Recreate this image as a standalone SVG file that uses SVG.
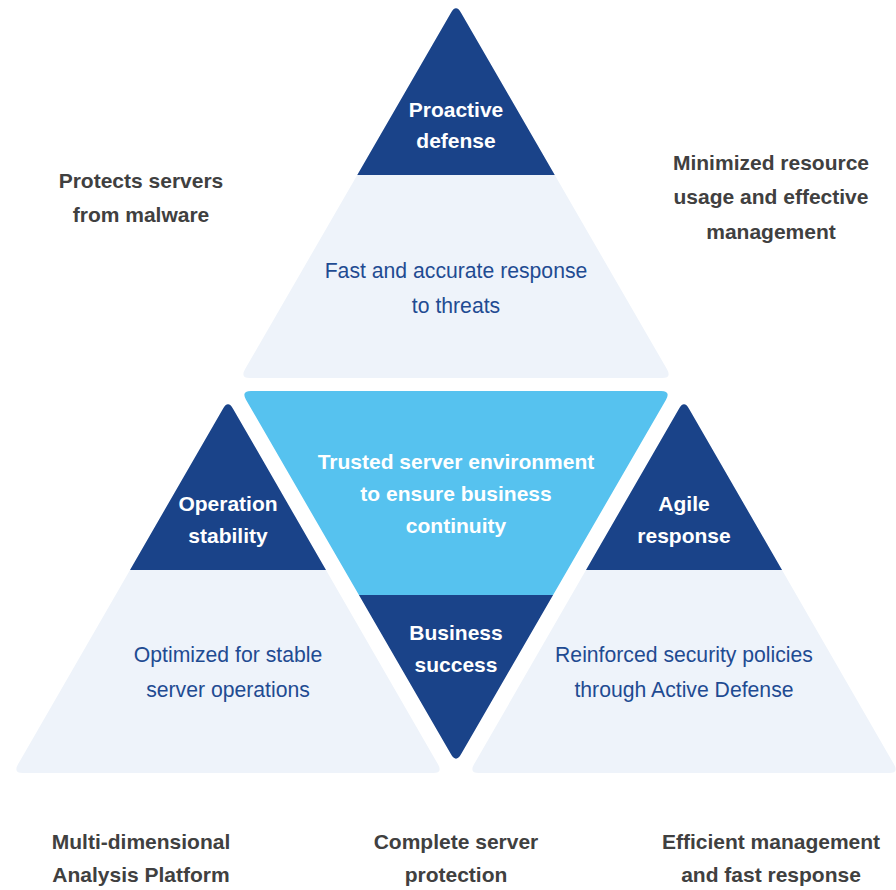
<svg xmlns="http://www.w3.org/2000/svg" width="896" height="890" viewBox="0 0 896 890">
<defs>
<style>
.dark{fill:#1a4389}
.light{fill:#eef3fa}
.cyan{fill:#56c2ef}
text{font-family:"Liberation Sans",Arial,sans-serif;text-anchor:middle}
.wb{fill:#ffffff;font-weight:bold;font-size:21px}
.bt{fill:#1f4b92;font-size:21.2px}
.gb{fill:#404040;font-weight:bold;font-size:21px}
</style>
<clipPath id="cTop"><path d="M461,12.66 L667,369.34 Q672,378 662,378 L250,378 Q240,378 245,369.34 L451,12.66 Q456,4 461,12.66 Z"/></clipPath>
<clipPath id="cCenter"><path d="M251,391 L661,391 Q671,391 666,399.66 L461,754.34 Q456,763 451,754.34 L246,399.66 Q241,391 251,391 Z"/></clipPath>
<clipPath id="cLeft"><path d="M233,408.66 L438,764.34 Q443,773 433,773 L23,773 Q13,773 18,764.34 L223,408.66 Q228,400 233,408.66 Z"/></clipPath>
<clipPath id="cRight"><path d="M689,408.66 L894,764.34 Q899,773 889,773 L479,773 Q469,773 474,764.34 L679,408.66 Q684,400 689,408.66 Z"/></clipPath>
</defs>
<rect width="896" height="890" fill="#ffffff"/>

<g id="top-triangle">
<g clip-path="url(#cTop)">
<rect class="light" x="230" y="0" width="450" height="380"/>
<rect class="dark" x="230" y="0" width="450" height="175"/>
</g>
<text class="wb" x="456" y="117">Proactive</text>
<text class="wb" x="456" y="148">defense</text>
<text class="bt" x="456" y="278">Fast and accurate response</text>
<text class="bt" x="456" y="313">to threats</text>
</g>

<g id="center-triangle">
<g clip-path="url(#cCenter)">
<rect class="cyan" x="230" y="385" width="450" height="210"/>
<rect class="dark" x="230" y="595" width="450" height="175"/>
</g>
<text class="wb" x="456" y="469">Trusted server environment</text>
<text class="wb" x="456" y="501">to ensure business</text>
<text class="wb" x="456" y="533">continuity</text>
<text class="wb" x="456" y="640">Business</text>
<text class="wb" x="456" y="672">success</text>
</g>

<g id="left-triangle">
<g clip-path="url(#cLeft)">
<rect class="light" x="0" y="395" width="450" height="380"/>
<rect class="dark" x="0" y="395" width="450" height="175"/>
</g>
<text class="wb" x="228" y="511">Operation</text>
<text class="wb" x="228" y="543">stability</text>
<text class="bt" x="228" y="662">Optimized for stable</text>
<text class="bt" x="228" y="697">server operations</text>
</g>

<g id="right-triangle">
<g clip-path="url(#cRight)">
<rect class="light" x="460" y="395" width="440" height="380"/>
<rect class="dark" x="460" y="395" width="440" height="175"/>
</g>
<text class="wb" x="684" y="511">Agile</text>
<text class="wb" x="684" y="543">response</text>
<text class="bt" x="684" y="662">Reinforced security policies</text>
<text class="bt" x="684" y="697">through Active Defense</text>
</g>

<g id="label-malware">
<text class="gb" x="141" y="188">Protects servers</text>
<text class="gb" x="141" y="222">from malware</text>
</g>
<g id="label-resource">
<text class="gb" x="771" y="170">Minimized resource</text>
<text class="gb" x="771" y="204">usage and effective</text>
<text class="gb" x="771" y="239">management</text>
</g>
<g id="label-analysis">
<text class="gb" x="141" y="849">Multi-dimensional</text>
<text class="gb" x="141" y="882">Analysis Platform</text>
</g>
<g id="label-protection">
<text class="gb" x="456" y="849">Complete server</text>
<text class="gb" x="456" y="882">protection</text>
</g>
<g id="label-efficient">
<text class="gb" x="771" y="849">Efficient management</text>
<text class="gb" x="771" y="882">and fast response</text>
</g>
<g id="connectors"></g>
</svg>
